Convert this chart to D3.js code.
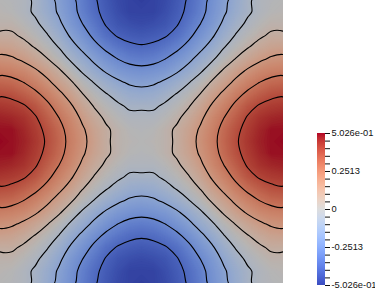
<!DOCTYPE html>
<html>
<head>
<meta charset="utf-8">
<script src="https://cdn.jsdelivr.net/npm/d3@7"></script>
<style>
  body { margin: 0; background: #fff; }
  svg { display: block; }
</style>
</head>
<body>
<svg id="chart" width="375" height="288"></svg>
<script>
// field values on a 25 x 25 grid, rows top -> bottom, columns left -> right
var gridRows = [
  [0,-0.01,-0.03,-0.07,-0.13,-0.19,-0.25,-0.32,-0.38,-0.43,-0.47,-0.49,-0.50,-0.49,-0.47,-0.43,-0.38,-0.32,-0.25,-0.19,-0.13,-0.07,-0.03,-0.01,0],
  [0.01,0,-0.03,-0.07,-0.12,-0.18,-0.24,-0.31,-0.37,-0.42,-0.46,-0.49,-0.49,-0.49,-0.46,-0.42,-0.37,-0.31,-0.24,-0.18,-0.12,-0.07,-0.03,0,0.01],
  [0.03,0.03,0,-0.04,-0.09,-0.15,-0.22,-0.28,-0.34,-0.40,-0.44,-0.46,-0.47,-0.46,-0.44,-0.40,-0.34,-0.28,-0.22,-0.15,-0.09,-0.04,0,0.03,0.03],
  [0.07,0.07,0.04,0,-0.05,-0.11,-0.18,-0.24,-0.30,-0.36,-0.40,-0.42,-0.43,-0.42,-0.40,-0.36,-0.30,-0.24,-0.18,-0.11,-0.05,0,0.04,0.07,0.07],
  [0.13,0.12,0.09,0.05,0,-0.06,-0.13,-0.19,-0.25,-0.30,-0.34,-0.37,-0.38,-0.37,-0.34,-0.30,-0.25,-0.19,-0.13,-0.06,0,0.05,0.09,0.12,0.13],
  [0.19,0.18,0.15,0.11,0.06,0,-0.07,-0.13,-0.19,-0.24,-0.28,-0.31,-0.32,-0.31,-0.28,-0.24,-0.19,-0.13,-0.07,0,0.06,0.11,0.15,0.18,0.19],
  [0.25,0.24,0.22,0.18,0.13,0.07,0,-0.07,-0.13,-0.18,-0.22,-0.24,-0.25,-0.24,-0.22,-0.18,-0.13,-0.07,0,0.07,0.13,0.18,0.22,0.24,0.25],
  [0.32,0.31,0.28,0.24,0.19,0.13,0.07,0,-0.06,-0.11,-0.15,-0.18,-0.19,-0.18,-0.15,-0.11,-0.06,0,0.07,0.13,0.19,0.24,0.28,0.31,0.32],
  [0.38,0.37,0.34,0.30,0.25,0.19,0.13,0.06,0,-0.05,-0.09,-0.12,-0.13,-0.12,-0.09,-0.05,0,0.06,0.13,0.19,0.25,0.30,0.34,0.37,0.38],
  [0.43,0.42,0.40,0.36,0.30,0.24,0.18,0.11,0.05,0,-0.04,-0.07,-0.07,-0.07,-0.04,0,0.05,0.11,0.18,0.24,0.30,0.36,0.40,0.42,0.43],
  [0.47,0.46,0.44,0.40,0.34,0.28,0.22,0.15,0.09,0.04,0,-0.03,-0.03,-0.03,0,0.04,0.09,0.15,0.22,0.28,0.34,0.40,0.44,0.46,0.47],
  [0.49,0.49,0.46,0.42,0.37,0.31,0.24,0.18,0.12,0.07,0.03,0,-0.01,0,0.03,0.07,0.12,0.18,0.24,0.31,0.37,0.42,0.46,0.49,0.49],
  [0.50,0.49,0.47,0.43,0.38,0.32,0.25,0.19,0.13,0.07,0.03,0.01,0,0.01,0.03,0.07,0.13,0.19,0.25,0.32,0.38,0.43,0.47,0.49,0.50],
  [0.49,0.49,0.46,0.42,0.37,0.31,0.24,0.18,0.12,0.07,0.03,0,-0.01,0,0.03,0.07,0.12,0.18,0.24,0.31,0.37,0.42,0.46,0.49,0.49],
  [0.47,0.46,0.44,0.40,0.34,0.28,0.22,0.15,0.09,0.04,0,-0.03,-0.03,-0.03,0,0.04,0.09,0.15,0.22,0.28,0.34,0.40,0.44,0.46,0.47],
  [0.43,0.42,0.40,0.36,0.30,0.24,0.18,0.11,0.05,0,-0.04,-0.07,-0.07,-0.07,-0.04,0,0.05,0.11,0.18,0.24,0.30,0.36,0.40,0.42,0.43],
  [0.38,0.37,0.34,0.30,0.25,0.19,0.13,0.06,0,-0.05,-0.09,-0.12,-0.13,-0.12,-0.09,-0.05,0,0.06,0.13,0.19,0.25,0.30,0.34,0.37,0.38],
  [0.32,0.31,0.28,0.24,0.19,0.13,0.07,0,-0.06,-0.11,-0.15,-0.18,-0.19,-0.18,-0.15,-0.11,-0.06,0,0.07,0.13,0.19,0.24,0.28,0.31,0.32],
  [0.25,0.24,0.22,0.18,0.13,0.07,0,-0.07,-0.13,-0.18,-0.22,-0.24,-0.25,-0.24,-0.22,-0.18,-0.13,-0.07,0,0.07,0.13,0.18,0.22,0.24,0.25],
  [0.19,0.18,0.15,0.11,0.06,0,-0.07,-0.13,-0.19,-0.24,-0.28,-0.31,-0.32,-0.31,-0.28,-0.24,-0.19,-0.13,-0.07,0,0.06,0.11,0.15,0.18,0.19],
  [0.13,0.12,0.09,0.05,0,-0.06,-0.13,-0.19,-0.25,-0.30,-0.34,-0.37,-0.38,-0.37,-0.34,-0.30,-0.25,-0.19,-0.13,-0.06,0,0.05,0.09,0.12,0.13],
  [0.07,0.07,0.04,0,-0.05,-0.11,-0.18,-0.24,-0.30,-0.36,-0.40,-0.42,-0.43,-0.42,-0.40,-0.36,-0.30,-0.24,-0.18,-0.11,-0.05,0,0.04,0.07,0.07],
  [0.03,0.03,0,-0.04,-0.09,-0.15,-0.22,-0.28,-0.34,-0.40,-0.44,-0.46,-0.47,-0.46,-0.44,-0.40,-0.34,-0.28,-0.22,-0.15,-0.09,-0.04,0,0.03,0.03],
  [0.01,0,-0.03,-0.07,-0.12,-0.18,-0.24,-0.31,-0.37,-0.42,-0.46,-0.49,-0.49,-0.49,-0.46,-0.42,-0.37,-0.31,-0.24,-0.18,-0.12,-0.07,-0.03,0,0.01],
  [0,-0.01,-0.03,-0.07,-0.13,-0.19,-0.25,-0.32,-0.38,-0.43,-0.47,-0.49,-0.50,-0.49,-0.47,-0.43,-0.38,-0.32,-0.25,-0.19,-0.13,-0.07,-0.03,-0.01,0]
];

var rangeMin = -0.5026, rangeMax = 0.5026;
var contourLevels = [-0.3909, -0.2792, -0.1675, -0.0558, 0.0558, 0.1675, 0.2792, 0.3909];
var tickValues = [0.5026, 0.2513, 0, -0.2513, -0.5026];
var tickLabels = ["5.026e-01", "0.2513", "0", "-0.2513", "-5.026e-01"];

// cool to warm diverging map
var coolWarm = ["#3b4cc0","#445acc","#4d68d7","#5775e1","#6282ea","#6c8ef1","#779af7","#82a5fb",
  "#8db0fe","#98b9ff","#a3c2ff","#aec9fd","#b8d0f9","#c2d5f4","#ccd9ee","#d5dbe6","#dddddd",
  "#e5d8d1","#ecd3c5","#f1ccb9","#f5c4ad","#f7bba0","#f7b194","#f7a687","#f49a7b","#f18d6f",
  "#ec7f63","#e57058","#de604d","#d55042","#cb3e38","#c0282f","#b40426"];

var W = 283, H = 283, shade = 0.82;
var nx = gridRows[0].length, ny = gridRows.length;
var values = [].concat.apply([], gridRows);

var colorScale = d3.scaleLinear()
  .domain(d3.range(coolWarm.length).map(function(i){ return rangeMin + i * (rangeMax - rangeMin) / (coolWarm.length - 1); }))
  .range(coolWarm)
  .interpolate(d3.interpolateRgb)
  .clamp(true);

function litColor(v) {
  var c = d3.rgb(colorScale(v));
  return d3.rgb(c.r * shade, c.g * shade, c.b * shade).toString();
}

var svg = d3.select("#chart");

svg.append("defs").append("clipPath").attr("id", "plotClip")
  .append("rect").attr("x", 0).attr("y", 0).attr("width", W).attr("height", H);

// grid sample i sits at contour coord i + 0.5
var xs = d3.scaleLinear().domain([0.5, nx - 0.5]).range([0, W]);
var ys = d3.scaleLinear().domain([0.5, ny - 0.5]).range([0, H]);
var proj = d3.geoTransform({ point: function(x, y) { this.stream.point(xs(x), ys(y)); } });
var path = d3.geoPath(proj);

var plot = svg.append("g").attr("clip-path", "url(#plotClip)");

// filled bands
var step = 0.005;
var fillLevels = d3.range(rangeMin + step, rangeMax, step);
plot.append("rect").attr("width", W).attr("height", H).attr("fill", litColor(rangeMin));

var contours = d3.contours().size([nx, ny]);
plot.append("g").selectAll("path")
  .data(contours.thresholds(fillLevels)(values))
  .join("path")
  .attr("d", path)
  .attr("fill", function(d){ return litColor(d.value + step / 2); });

// iso lines
var line = d3.line()
  .x(function(p){ return xs(p[0]); })
  .y(function(p){ return ys(p[1]); })
  .curve(d3.curveCatmullRomClosed.alpha(0.5));

var isoLines = contours.thresholds(contourLevels)(values);
var ringPaths = [];
isoLines.forEach(function(mp) {
  mp.coordinates.forEach(function(poly) {
    poly.forEach(function(ring) { ringPaths.push(line(ring.slice(0, -1))); });
  });
});
plot.append("g").selectAll("path")
  .data(ringPaths)
  .join("path")
  .attr("d", function(d){ return d; })
  .attr("fill", "none")
  .attr("stroke", "#000")
  .attr("stroke-width", 1.1);

// colour legend
var barX = 317, barW = 8, barTop = 133, barBottom = 285;
var grad = svg.select("defs").append("linearGradient")
  .attr("id", "barGrad").attr("x1", 0).attr("y1", 1).attr("x2", 0).attr("y2", 0);
grad.selectAll("stop")
  .data(coolWarm)
  .join("stop")
  .attr("offset", function(d, i){ return i / (coolWarm.length - 1); })
  .attr("stop-color", function(d){ return d; });

svg.append("rect")
  .attr("x", barX).attr("y", barTop)
  .attr("width", barW).attr("height", barBottom - barTop)
  .attr("fill", "url(#barGrad)");

var yBar = d3.scaleLinear().domain([rangeMin, rangeMax]).range([barBottom, barTop]);
var minorTicks = d3.range(21).map(function(k){ return rangeMin + k * (rangeMax - rangeMin) / 20; });

var axis = svg.append("g")
  .attr("transform", "translate(" + (barX + barW) + ",0)")
  .call(d3.axisRight(yBar).tickValues(minorTicks).tickSize(5).tickFormat(""));
axis.select(".domain").remove();
axis.selectAll("line").attr("stroke", "#111");

svg.append("g").selectAll("text")
  .data(tickValues)
  .join("text")
  .attr("x", 331.5)
  .attr("y", function(d){ return yBar(d); })
  .attr("dy", "0.35em")
  .attr("font-family", "Liberation Sans, Arial, sans-serif")
  .attr("font-size", 9.3)
  .attr("fill", "#111")
  .text(function(d, i){ return tickLabels[i]; });
</script>
</body>
</html>
